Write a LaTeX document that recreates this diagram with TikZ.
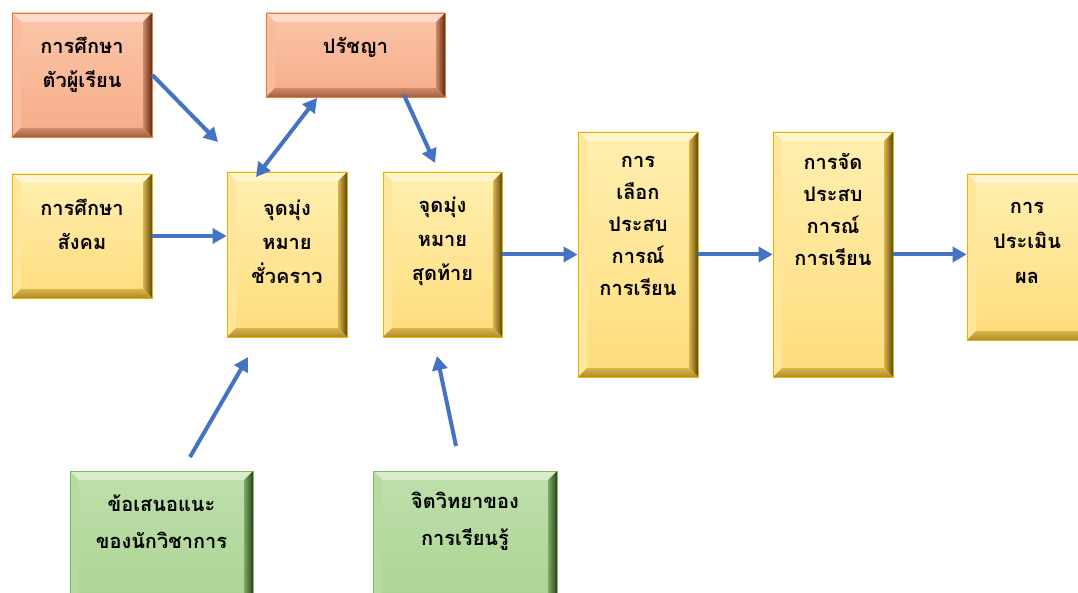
\documentclass[tikz,border=0pt]{standalone}
\usepackage{fontspec}
\newfontfamily\thai[Script=Thai]{Loma}
\usetikzlibrary{arrows.meta,calc}
\definecolor{arrowblue}{HTML}{4472C4}
% yellow
\definecolor{yTop}{HTML}{FFEFB0}\definecolor{yBot}{HTML}{FFDC7C}
\definecolor{yLight}{HTML}{FFF5CF}\definecolor{yLeft}{HTML}{FFE69A}
\definecolor{yMid}{HTML}{D9B54A}\definecolor{yDark}{HTML}{5E480C}
\definecolor{yBottom}{HTML}{B08A28}\definecolor{yBorder}{HTML}{E8B000}
% salmon
\definecolor{sTop}{HTML}{FBC6AA}\definecolor{sBot}{HTML}{F6AC88}
\definecolor{sLight}{HTML}{FDDCCB}\definecolor{sLeft}{HTML}{F9BC9E}
\definecolor{sMid}{HTML}{D08A68}\definecolor{sDark}{HTML}{5E2A12}
\definecolor{sBottom}{HTML}{A06044}\definecolor{sBorder}{HTML}{E97A3A}
% green
\definecolor{gTop}{HTML}{BFE0AC}\definecolor{gBot}{HTML}{ABD494}
\definecolor{gLight}{HTML}{D8EDCC}\definecolor{gLeft}{HTML}{B6DBA2}
\definecolor{gMid}{HTML}{80AA68}\definecolor{gDark}{HTML}{263F18}
\definecolor{gBottom}{HTML}{709B58}\definecolor{gBorder}{HTML}{7DBA58}
\tikzset{
  bevel/.style={rectangle, inner sep=0pt, draw=#1Border, line width=0.8pt,
    top color=#1Top, bottom color=#1Bot,
    path picture={
      \path (path picture bounding box.north west) coordinate (@nw)
            (path picture bounding box.north east) coordinate (@ne)
            (path picture bounding box.south west) coordinate (@sw)
            (path picture bounding box.south east) coordinate (@se);
      \fill[#1Light] (@nw) -- (@ne) -- ([shift={(-9pt,-9pt)}]@ne) -- ([shift={(9pt,-9pt)}]@nw) -- cycle;
      \fill[#1Left] (@nw) -- ([shift={(9pt,-9pt)}]@nw) -- ([shift={(9pt,9pt)}]@sw) -- (@sw) -- cycle;
      \shade[left color=#1Mid, right color=#1Dark] (@ne) -- (@se) -- ([shift={(-9pt,9pt)}]@se) -- ([shift={(-9pt,-9pt)}]@ne) -- cycle;
      \shade[top color=#1Mid, bottom color=#1Bottom] (@sw) -- ([shift={(9pt,9pt)}]@sw) -- ([shift={(-9pt,9pt)}]@se) -- (@se) -- cycle;
    }},
  lbl/.style={align=center, inner sep=0pt, font=\thai\bfseries\fontsize{20}{34}\selectfont},
  arr/.style={draw=arrowblue, line width=4pt, -{Triangle[length=14pt,width=15pt]}},
  darr/.style={draw=arrowblue, line width=4pt, {Triangle[length=14pt,width=15pt]}-{Triangle[length=14pt,width=15pt]}}
}
\begin{document}
\begin{tikzpicture}[x=1pt,y=-1pt]
\useasboundingbox (0,0) rectangle (1078,593);
\fill[white] (0,0) rectangle (1078,593);
% boxes
\node[bevel=s, minimum width=140pt, minimum height=124pt] (b1) at (82,75) {};
\node[bevel=s, minimum width=179pt, minimum height=84pt] (p) at (355.5,55) {};
\node[bevel=y, minimum width=140pt, minimum height=124pt] (b2) at (82,236) {};
\node[bevel=y, minimum width=120pt, minimum height=165pt] (m1) at (287,254.5) {};
\node[bevel=y, minimum width=119pt, minimum height=165pt] (m2) at (442.5,254.5) {};
\node[bevel=y, minimum width=120pt, minimum height=245pt] (s1) at (638,254.5) {};
\node[bevel=y, minimum width=120pt, minimum height=245pt] (s2) at (833,254.5) {};
\node[bevel=y, minimum width=120pt, minimum height=166pt] (e) at (1027,257) {};
\node[bevel=g, minimum width=183pt, minimum height=132pt] (g1) at (161.5,537) {};
\node[bevel=g, minimum width=184pt, minimum height=132pt] (g2) at (465,537) {};
% texts
\node[lbl] (b1t) at (82,65) {การศึกษา\\ตัวผู้เรียน};
\node[lbl] (pt) at (355.5,47) {ปรัชญา};
\node[lbl] (b2t) at (82,224.5) {การศึกษา\\สังคม};
\node[lbl] (m1t) at (287,241.7) {จุดมุ่ง\\หมาย\\ชั่วคราว};
\node[lbl] (m2t) at (442.5,241.7) {จุดมุ่ง\\หมาย\\สุดท้าย};
\node[lbl, font=\thai\bfseries\fontsize{20}{32}\selectfont] (s1t) at (638,226) {การ\\เลือก\\ประสบ\\การณ์\\การเรียน};
\node[lbl, font=\thai\bfseries\fontsize{20}{32}\selectfont] (s2t) at (833,209) {การจัด\\ประสบ\\การณ์\\การเรียน};
\node[lbl, font=\thai\bfseries\fontsize{20}{35}\selectfont] (et) at (1027,242.7) {การ\\ประเมิน\\ผล};
\node[lbl, font=\thai\bfseries\fontsize{20}{37}\selectfont] (g1t) at (161.5,521.5) {ข้อเสนอแนะ\\ของนักวิชาการ};
\node[lbl, font=\thai\bfseries\fontsize{20}{37}\selectfont] (g2t) at (465,521) {จิตวิทยาของ\\การเรียนรู้};
% free ends
\coordinate (c1) at (218,142);
\coordinate (c2a) at (256,177);
\coordinate (c2b) at (317,98);
\coordinate (c3a) at (404,95);
\coordinate (c3b) at (435,163);
\coordinate (c4a) at (190,457);
\coordinate (c4b) at (248,357);
\coordinate (c5a) at (456,446);
\coordinate (c5b) at (437,356);
% connectors
\draw[arr] (b1.east) -- (c1);
\draw[arr] (b2.east) -- (b2.east -| m1.west);
\draw[darr] (c2a) -- (c2b);
\draw[arr] (c3a) -- (c3b);
\draw[arr] (m2.east) -- (s1.west);
\draw[arr] (s1.east) -- (s2.west);
\draw[arr] (s2.east) -- (s2.east -| e.west);
\draw[arr] (c4a) -- (c4b);
\draw[arr] (c5a) -- (c5b);
\end{tikzpicture}
\end{document}
